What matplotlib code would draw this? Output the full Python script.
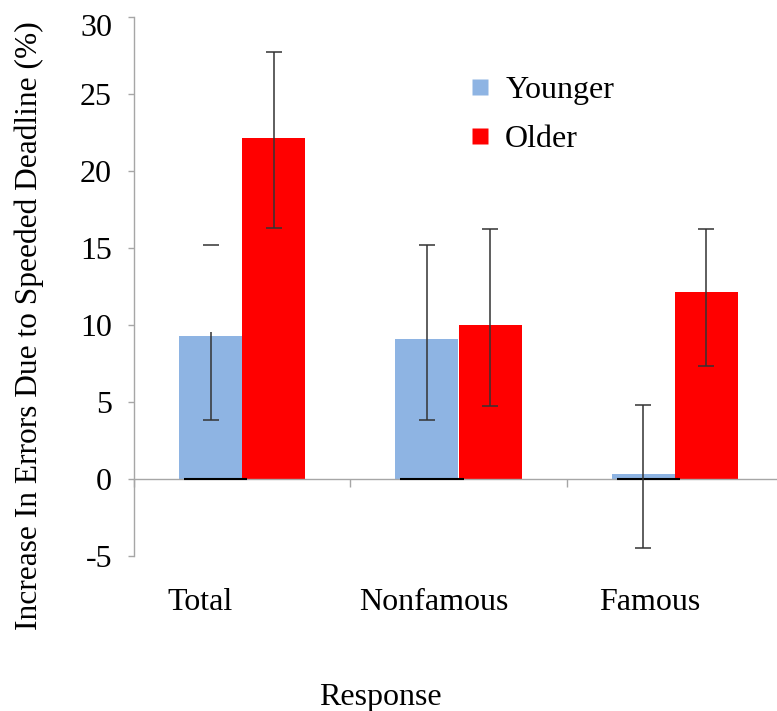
import matplotlib
matplotlib.use('Agg')
import matplotlib.pyplot as plt
from matplotlib.lines import Line2D
from matplotlib.transforms import ScaledTranslation
import numpy as np

# ---------------- data ----------------
categories = ['Total', 'Nonfamous', 'Famous']
series_names = ['Younger', 'Older']
younger = [9.3, 9.1, 0.3]
older = [22.1, 10.0, 12.1]
younger_err_low = [3.8, 3.8, -4.5]
younger_err_high = [15.2, 15.2, 4.8]
older_err_low = [16.3, 4.7, 7.3]
older_err_high = [27.7, 16.2, 16.2]
# the reference shows the Total/Younger whisker line only up to the bar top
younger_line_stops_at_bar = [True, False, False]
y_ticks = [-5, 0, 5, 10, 15, 20, 25, 30]
y_label = 'Increase In Errors Due to Speeded Deadline (%)'
x_label = 'Response'

# ---------------- style ----------------
plt.rcParams['font.family'] = ['Liberation Serif', 'DejaVu Serif']
col_young = '#8EB4E3'
col_old = '#FF0000'
grey = '#a6a6a6'
err_col = '#333333'
FS = 23

W, H = 777, 711
fig = plt.figure(figsize=(W / 100, H / 100), dpi=100)
ax = fig.add_axes([134 / W, (H - 556) / H, (783 - 134) / W, (556 - 16.5) / H])

x = np.arange(len(categories))
bw = 63 / 216

ax.bar(x - bw / 2, younger, width=bw, color=col_young, zorder=2)
ax.bar(x + bw / 2, older, width=bw, color=col_old, zorder=2)

# short dark line at zero under the younger bars
shift = 5 / 216
ax.hlines([0] * len(x), x - bw + shift, x + shift, colors='black', lw=1.5, zorder=3)

cap = 8 / 216


def whisker(xc, lo, hi, line_top=None):
    top = hi if line_top is None else line_top
    ax.vlines(xc, lo, top, colors=err_col, lw=1.1, zorder=4)
    ax.hlines([lo, hi], xc - cap, xc + cap, colors=err_col, lw=1.1, zorder=4)


for i in range(len(x)):
    lt = younger[i] + 0.2 if younger_line_stops_at_bar[i] else None
    whisker(x[i] - bw / 2, younger_err_low[i], younger_err_high[i], lt)
    whisker(x[i] + bw / 2, older_err_low[i], older_err_high[i])

ax.set_xlim(-0.5, 2.5)
ax.set_ylim(-5, 30)

for s in ['top', 'right']:
    ax.spines[s].set_visible(False)
ax.spines['bottom'].set_position(('data', 0))
ax.spines['left'].set_color(grey)
ax.spines['bottom'].set_color(grey)
ax.spines['left'].set_linewidth(1.0)
ax.spines['bottom'].set_linewidth(1.0)

ax.set_yticks(y_ticks)
ax.set_yticklabels([str(t) for t in y_ticks])
ax.tick_params(axis='y', direction='out', length=4.3, color=grey, width=1.0,
               pad=11.5, labelsize=FS, labelcolor='black')
# top label sits slightly lower in the reference
lab = ax.get_yticklabels()[-1]
lab.set_transform(lab.get_transform() + ScaledTranslation(0, -8 / 100, fig.dpi_scale_trans))

ax.set_xticks(np.arange(-0.5, len(categories), 1.0))
ax.set_xticklabels([])
ax.tick_params(axis='x', direction='out', length=6, color=grey, width=1.0)

# category labels
label_dx = [-42.5 / 216, -25 / 216, -25 / 216]
for i, c in enumerate(categories):
    ax.text(x[i] + label_dx[i], -0.1, c, transform=ax.get_xaxis_transform(),
            ha='center', va='baseline', fontsize=FS)

fig.text(380 / W, 1 - 705 / H, x_label, ha='center', va='baseline', fontsize=FS)
fig.text(29 / W, 1 - 326 / H, y_label, rotation=90, ha='center', va='center', fontsize=22.6)

handles = [Line2D([], [], marker='s', linestyle='none', markersize=11,
                  markerfacecolor=col_young, markeredgecolor='none'),
           Line2D([], [], marker='s', linestyle='none', markersize=11,
                  markerfacecolor=col_old, markeredgecolor='none')]
fig.legend(handles, series_names, loc='upper left', bbox_to_anchor=(470 / W, 1 - 76 / H),
           frameon=False, fontsize=FS, handlelength=0.6, handletextpad=0.5,
           borderpad=0, borderaxespad=0, labelspacing=0.6)

fig.savefig('out.png', dpi=100)
